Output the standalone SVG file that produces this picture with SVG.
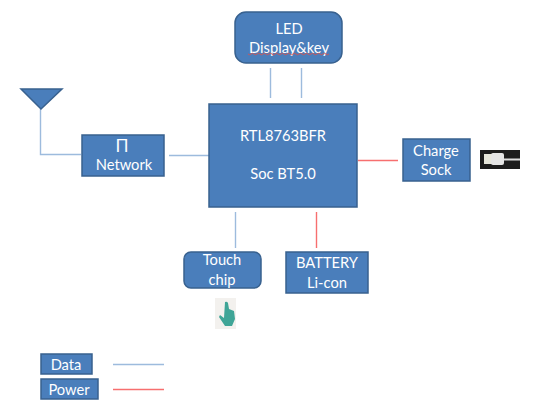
<svg xmlns="http://www.w3.org/2000/svg" width="547" height="417" viewBox="0 0 547 417">
<style>
.n{fill:#4a7ebb;stroke:#38618f;stroke-width:1.5}
.t{fill:#fff;font-family:Lato,"Open Sans",sans-serif;font-size:14.700px;text-anchor:middle}
.d{stroke:#9dbbdd;stroke-width:1.4;fill:none}
.p{stroke:#f76f6f;stroke-width:1.4;fill:none}
.pi{font-size:17px}
</style>
<rect width="547" height="417" fill="#fff"/>
<g id="connectors">
<path class="d" d="M270.500 68V98M301.500 68V98"/>
<path class="d" d="M40.500 109V154.500H81"/>
<path class="d" d="M169 155.500H209"/>
<path class="p" d="M358 160.500H398"/>
<path class="d" d="M235.500 212V248"/>
<path class="p" d="M316.500 212V248"/>
<path class="d" d="M113 364.500H164"/>
<path class="p" d="M113 389.500H164"/>
</g>
<g id="led"><rect class="n" x="235" y="12" width="107" height="51" rx="11"/><text class="t" x="289" y="34">LED</text><text class="t" x="289" y="53">Display&amp;key</text><path d="M248 54q1.500 1.500 3 0t3 0t3 0t3 0t3 0t3 0t3 0t3 0t3 0t3 0t3 0t3 0t3 0t3 0t3 0t3 0t3 0t3 0t3 0t3 0t3 0t3 0t3 0t3 0t3 0t3 0t3 0" fill="none" stroke="#d9534f" stroke-width=".9"/></g>
<g id="antenna"><path d="M21 89H62L41 109Z" fill="#4a7ebb" stroke="#38618f" stroke-width="1.500"/></g>
<g id="network"><rect class="n" x="82" y="135" width="82" height="41"/><text class="t pi" x="122" y="152">Π</text><text class="t" x="124" y="170">Network</text></g>
<g id="soc"><rect class="n" x="209" y="104" width="148" height="103"/><text class="t" x="283" y="141">RTL8763BFR</text><text class="t" x="283" y="179">Soc BT5.0</text></g>
<g id="charge"><rect class="n" x="403" y="139" width="67" height="42"/><text class="t" x="436" y="156">Charge</text><text class="t" x="436" y="175">Sock</text></g>
<g id="usb"><rect x="480" y="150" width="40" height="19" fill="#1c1c1c"/><path d="M504 159.500H520" stroke="#ddd" stroke-width="2"/><rect x="484" y="154" width="9" height="10" fill="#e6e6da"/><rect x="491" y="153" width="13" height="12" rx="2" fill="#e4e4e4"/></g>
<g id="touch"><rect class="n" x="184" y="252" width="77" height="36" rx="7"/><text class="t" x="222" y="265">Touch</text><text class="t" x="222" y="285">chip</text></g>
<g id="battery"><rect class="n" x="286" y="252" width="82" height="41"/><text class="t" x="327" y="268">BATTERY</text><text class="t" x="327" y="288">Li-con</text></g>
<g id="hand"><rect x="215" y="298" width="21" height="31" fill="#f3f1ee"/><path d="M225 302q2-1 3 1l1 6 5 2 1 8-3 7h-7l-6-9 1-2 4 3Z" fill="#3fa597"/></g>
<g id="data"><rect class="n" x="41" y="354" width="51" height="20"/><text class="t" x="66" y="370">Data</text></g>
<g id="power"><rect class="n" x="41" y="379" width="57" height="20"/><text class="t" x="69" y="395">Power</text></g>
</svg>
